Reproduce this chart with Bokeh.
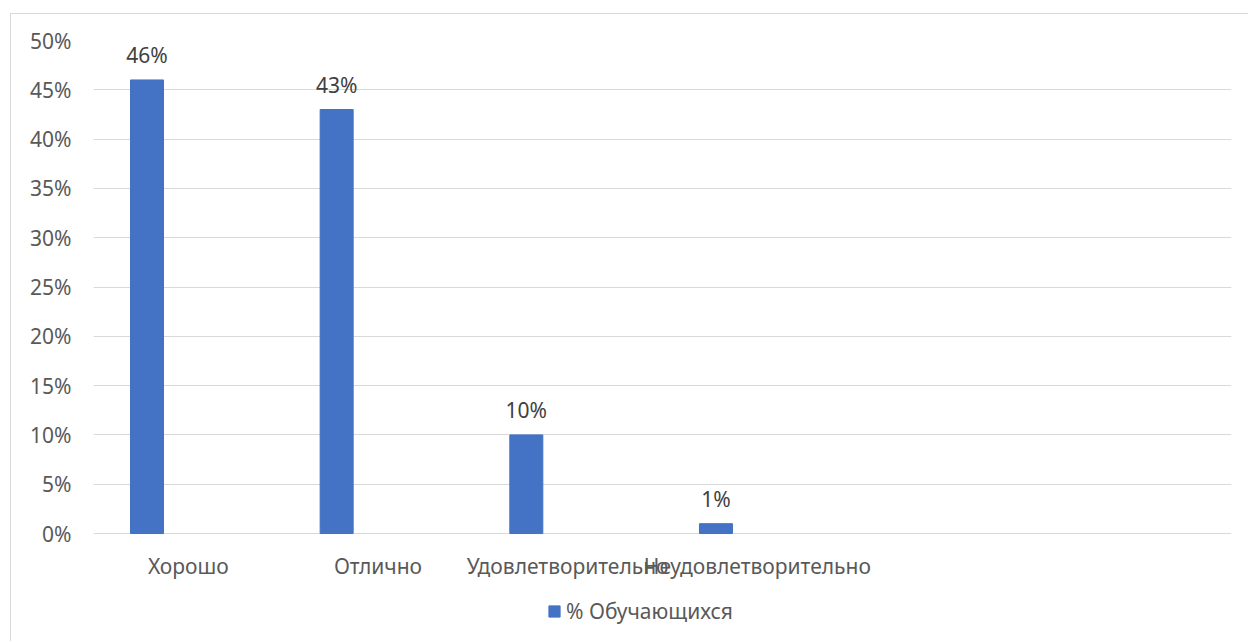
from bokeh.plotting import figure
from bokeh.models import (ColumnDataSource, FactorRange, FixedTicker, NumeralTickFormatter,
                          LabelSet, Legend, LegendItem, Range1d)
from bokeh.core.properties import value
from bokeh.transform import dodge
from bokeh.embed import file_html
from bokeh.resources import INLINE

categories = ["Хорошо", "Отлично", "Удовлетворительно", "Неудовлетворительно"]
empty_slots = [" ", "  "]
values = [0.46, 0.43, 0.10, 0.01]
value_labels = ["46%", "43%", "10%", "1%"]
series_name = "% Обучающихся"
y_ticks = [0, 0.05, 0.10, 0.15, 0.20, 0.25, 0.30, 0.35, 0.40, 0.45, 0.50]

FONT = "Noto Sans"
FS = "21px"
TXT = "#595959"

src = ColumnDataSource(dict(cat=categories, val=values, lab=value_labels,
                            zero=[0] * len(categories)))

# frame extends below the 0% line to hold the category labels and the legend
p = figure(width=1238, height=628, output_backend="svg", toolbar_location=None,
           x_range=FactorRange(*(categories + empty_slots), range_padding=0),
           y_range=Range1d(-0.1105, 0.5),
           min_border_left=82, min_border_right=18, min_border_top=26, min_border_bottom=0)
p.margin = (13, 0, 0, 10)
p.styles = {"border-left": "1px solid #d9d9d9", "border-top": "1px solid #d9d9d9"}
p.outline_line_color = None
p.background_fill_color = "white"
p.border_fill_color = "white"

bars = p.vbar(x=dodge("cat", -0.218, range=p.x_range), top="val", width=0.174, source=src,
              fill_color="#4472C4", line_color="#4472C4")

p.xgrid.grid_line_color = None
p.ygrid.grid_line_color = "#d9d9d9"
p.ygrid.grid_line_width = 1
p.ygrid.ticker = FixedTicker(ticks=y_ticks)

p.xaxis.visible = False
p.yaxis.ticker = FixedTicker(ticks=y_ticks)
p.yaxis.formatter = NumeralTickFormatter(format="0%")
ax = p.yaxis[0]
ax.axis_line_color = None
ax.major_tick_line_color = None
ax.minor_tick_line_color = None
ax.major_tick_out = 0
ax.major_tick_in = 0
ax.minor_tick_out = 0
ax.major_label_text_font = FONT
ax.major_label_text_font_size = FS
ax.major_label_text_color = TXT
ax.major_label_standoff = 22

# category labels under the 0% line
cat_labels = LabelSet(x="cat", y="zero", text="cat", source=src,
                      y_offset=-32, text_align="center", text_baseline="middle",
                      text_font=value(FONT), text_font_size=FS, text_color=TXT)
p.add_layout(cat_labels)

labels = LabelSet(x=dodge("cat", -0.218, range=p.x_range), y="val", text="lab", source=src,
                  y_offset=25, text_align="center", text_baseline="middle",
                  text_font=value(FONT), text_font_size=FS, text_color="#404040")
p.add_layout(labels)

legend = Legend(items=[LegendItem(label=series_name, renderers=[bars])],
                location=(454, 17), orientation="horizontal",
                glyph_width=14, glyph_height=14, label_standoff=5,
                label_text_font=FONT, label_text_font_size=FS, label_text_color=TXT,
                border_line_color=None, background_fill_alpha=0, padding=0, margin=0)
p.add_layout(legend, "center")

open("out.html", "w").write(file_html(p, INLINE))
